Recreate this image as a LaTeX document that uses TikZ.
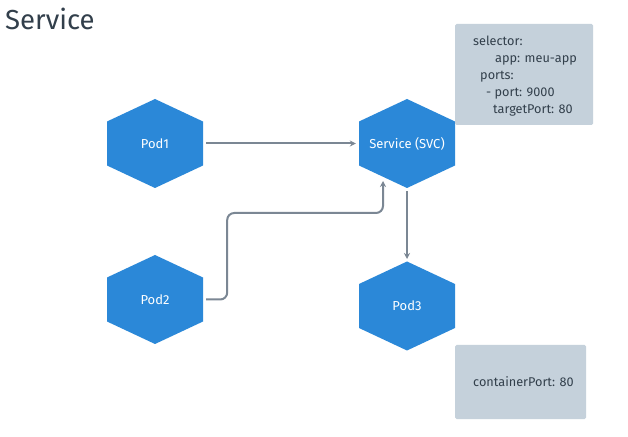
\documentclass[tikz,border=0pt]{standalone}
\usepackage{fontspec}
\setmainfont{Fira Sans}
\usetikzlibrary{arrows.meta}
\definecolor{hexblue}{HTML}{2B88D8}
\definecolor{linegray}{HTML}{7B8794}
\definecolor{boxgray}{HTML}{C5D1DB}
\definecolor{txtdark}{HTML}{323F4B}
\tikzset{
  podnode/.style={minimum width=102pt, minimum height=90pt, inner sep=0pt, text=white, font=\fontsize{13}{15}\selectfont},
  hexshape/.style={fill=hexblue},
  conn/.style={draw=linegray, line width=2pt, -{Stealth[length=6pt,width=6pt]}, rounded corners=7pt},
  notebox/.style={fill=boxgray, rounded corners=1.5pt, text=txtdark, font=\fontsize{12.7}{17}\selectfont, inner sep=0pt},
}
\newcommand{\hexat}[1]{%
  \fill[hexshape] ([shift={(0,44.5)}]#1.center) -- ([shift={(48,22)}]#1.center) -- ([shift={(48,-22)}]#1.center) -- ([shift={(0,-44.5)}]#1.center) -- ([shift={(-48,-22)}]#1.center) -- ([shift={(-48,22)}]#1.center) -- cycle;}
\begin{document}
\begin{tikzpicture}[x=1pt,y=1pt]
\useasboundingbox (0,0) rectangle (628,436);
\fill[white] (0,0) rectangle (628,436);
\node[anchor=west, text=txtdark, font=\fontsize{27.5}{30}\selectfont, inner sep=0pt] (title) at (5,417) {Service};
% nodes
\node[podnode] (pod1) at (155,292.5) {};
\node[podnode] (svc) at (407,292.5) {};
\node[podnode] (pod2) at (155,136.5) {};
\node[podnode] (pod3) at (407,130) {};
\hexat{pod1}\hexat{svc}\hexat{pod2}\hexat{pod3}
\node[podnode] at (pod1.center) {Pod1};
\node[podnode] at (svc.center) {Service (SVC)};
\node[podnode] at (pod2.center) {Pod2};
\node[podnode] at (pod3.center) {Pod3};
% boxes
\fill[notebox] (455,311) rectangle (593,412);
\node[notebox, fill=none, anchor=north west, align=left] (sel) at (473,400) {selector:\\\hspace*{22pt}app: meu-app\\\hspace*{7pt}ports:\\\hspace*{13pt}- port: 9000\\\hspace*{20pt}targetPort: 80};
\fill[notebox] (455,17) rectangle (586,91);
\node[notebox, fill=none, anchor=west] (cp) at (473,54) {containerPort: 80};
% connectors
\draw[conn] (pod1.east) -- (svc.west);
\coordinate (c1) at (383,223);
\draw[conn] (pod2.east) -- ++(21,0) |- (c1) -- ([yshift=-37.5pt]c1 |- svc.center);
\draw[conn] ([yshift=-48pt]svc.center) -- ([yshift=47pt]pod3.center);
\end{tikzpicture}
\end{document}
